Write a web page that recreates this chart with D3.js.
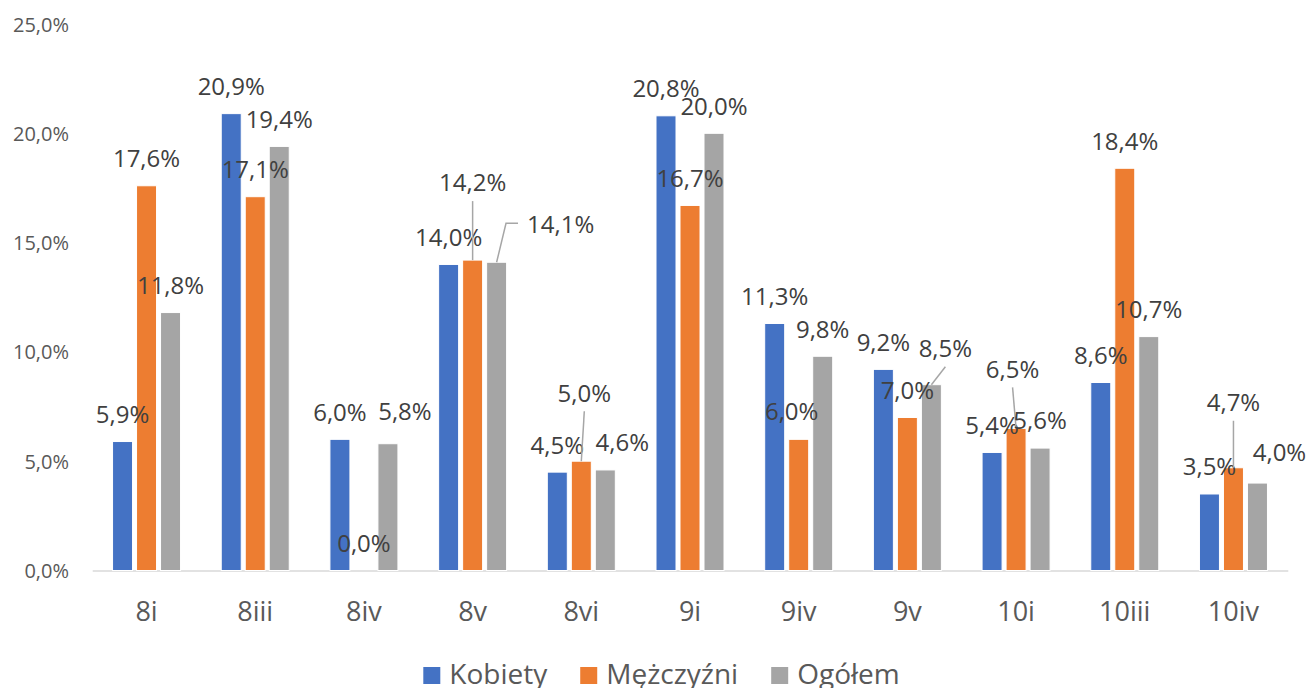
<!DOCTYPE html>
<html lang="pl">
<head>
    <meta charset="UTF-8">
    <title>d3</title>
    <script src="https://cdn.jsdelivr.net/npm/d3@7/dist/d3.min.js"></script>
    <style>
        body{margin:0; background:#fff;}
        svg{display:block;}
        text{font-family:"Open Sans","Noto Sans",sans-serif;}
    </style>
</head>
<body>
    <div id="chart"></div>
    <script>
        // dane
        var categories=['8i','8iii','8iv','8v','8vi','9i','9iv','9v','10i','10iii','10iv'];
        var kobiety=[5.9,20.9,6.0,14.0,4.5,20.8,11.3,9.2,5.4,8.6,3.5];
        var mezczyzni=[17.6,17.1,0.0,14.2,5.0,16.7,6.0,7.0,6.5,18.4,4.7];
        var ogolem=[11.8,19.4,5.8,14.1,4.6,20.0,9.8,8.5,5.6,10.7,4.0];
        var seriesNames=['Kobiety','Mężczyźni','Ogółem'];
        var yTicks=[0,5,10,15,20,25];

        // przesuniete etykiety: [dx, dy, linia] wzgledem srodka szczytu slupka
        // linia: 0 brak, 1 prosta, 2 lamana
        var labelMoves={
            'Mężczyźni':{'8v':[0,-77,1],'8vi':[3,-68,1],'9iv':[-7,-28,0],'10i':[-3.5,-59,1],'10iv':[0,-65,1]},
            'Ogółem':{'8iv':[17,-32,0],'8v':[64,-38,2],'8vi':[17,-27,0],'9v':[14,-36,1],'10iv':[22,-30,0]}
        };

        var colors=['#4472C4','#ED7D31','#A5A5A5'];
        var series=[kobiety,mezczyzni,ogolem];
        var width=1308, height=688;

        var svg=d3.select('#chart').append('svg')
            .attr('width',width)
            .attr('height',height);

        var xScale=d3.scaleBand()
            .domain(categories)
            .range([92.2,1287.8]);
        var xSub=d3.scaleBand()
            .domain(d3.range(3))
            .range([-34,34])
            .paddingInner(4/24);
        var yScale=d3.scaleLinear()
            .domain([0,25])
            .range([570.5,24]);

        function fmt(v){
            return v.toFixed(1).replace('.',',')+'%';
        }

        // os Y
        var yAxis=d3.axisLeft(yScale).tickValues(yTicks).tickFormat(fmt).tickSize(0).tickPadding(0);
        var gy=svg.append('g').attr('transform','translate(69,0)').call(yAxis);
        gy.select('.domain').remove();
        gy.selectAll('text')
            .attr('fill','#595959')
            .style('font-size','20px')
            .attr('dy','0.35em');

        // os X
        var xAxis=d3.axisBottom(xScale).tickSize(0).tickPadding(0);
        var gx=svg.append('g').attr('transform','translate(0,'+yScale(0)+')').call(xAxis);
        gx.select('.domain').attr('stroke','#d9d9d9').attr('stroke-width',1.5);
        gx.selectAll('text')
            .attr('fill','#595959')
            .style('font-size','27px')
            .attr('y',41)
            .attr('dy','0.35em');

        // slupki
        series.forEach(function(vals,si){
            svg.append('g').selectAll('rect')
                .data(vals)
                .enter()
                .append('rect')
                .attr('x',function(d,i){
                    return xScale(categories[i])+xScale.bandwidth()/2+xSub(si);
                })
                .attr('y',function(d){ return yScale(d); })
                .attr('width',xSub.bandwidth())
                .attr('height',function(d){ return yScale(0)-yScale(d); })
                .attr('fill',colors[si])
                .attr('stroke','#fff')
                .attr('stroke-width',1);
        });

        // etykiety danych
        var lblG=svg.append('g');
        series.forEach(function(vals,si){
            var moves=labelMoves[seriesNames[si]]||{};
            vals.forEach(function(v,i){
                var cat=categories[i];
                var bx=xScale(cat)+xScale.bandwidth()/2+xSub(si)+xSub.bandwidth()/2;
                var by=yScale(v);
                var m=moves[cat]||[0,-27,0];
                var lx=bx+m[0], ly=by+m[1];
                var t=lblG.append('text')
                    .attr('x',lx)
                    .attr('y',ly)
                    .attr('dy','0.35em')
                    .attr('text-anchor','middle')
                    .attr('fill','#404040')
                    .style('font-size','24px')
                    .text(fmt(v));
                if(m[2]==1){
                    lblG.append('line')
                        .attr('x1',lx).attr('y1',ly+18)
                        .attr('x2',bx).attr('y2',by)
                        .attr('stroke','#a6a6a6').attr('stroke-width',1.5);
                }else if(m[2]==2){
                    var left=lx-t.node().getComputedTextLength()/2;
                    lblG.append('polyline')
                        .attr('points',[[bx,by],[left-21,ly-1],[left-9,ly-1]].join(' '))
                        .attr('fill','none')
                        .attr('stroke','#a6a6a6').attr('stroke-width',1.5);
                }
            });
        });

        // legenda
        var leg=svg.append('g');
        var lx0=423.3;
        seriesNames.forEach(function(name,si){
            leg.append('rect')
                .attr('x',lx0).attr('y',667)
                .attr('width',17).attr('height',17)
                .attr('fill',colors[si]);
            var t=leg.append('text')
                .attr('x',lx0+26)
                .attr('y',683.5)
                .attr('fill','#595959')
                .style('font-size','28px')
                .text(name);
            lx0+=26+t.node().getComputedTextLength()+33;
        });
    </script>
</body>
</html>
